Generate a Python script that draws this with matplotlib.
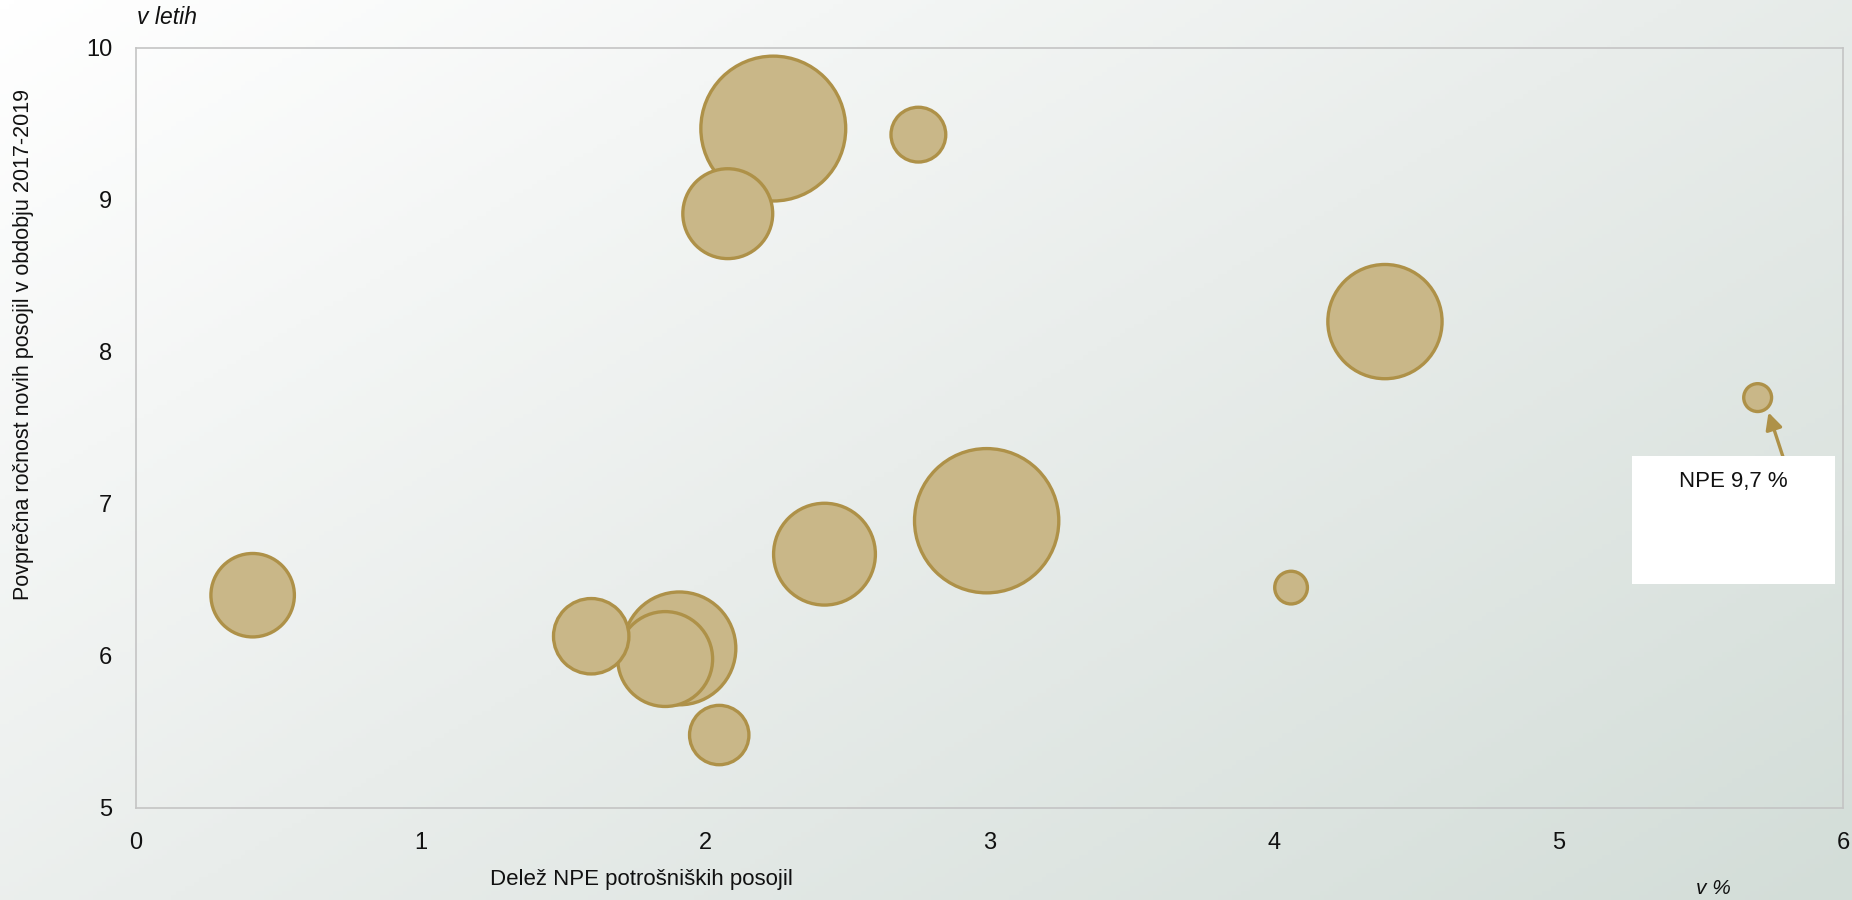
import numpy as np
import matplotlib
matplotlib.use('Agg')
import matplotlib.pyplot as plt
from matplotlib.colors import LinearSegmentedColormap

plt.rcParams['font.family'] = ['Liberation Sans', 'DejaVu Sans']

# delez NPE potrosniskih posojil (%), povprecna rocnost (leta), relativni obseg posojil
npe_delez = [0.41, 1.60, 1.91, 1.86, 2.05, 2.08, 2.24, 2.75, 2.42, 2.99, 4.06, 4.39, 5.70]
rocnost = [6.40, 6.13, 6.05, 5.98, 5.48, 8.91, 9.47, 9.43, 6.67, 6.89, 6.45, 8.20, 7.70]
obseg = [33.2, 27.1, 60.7, 42.9, 16.8, 38.5, 100.0, 14.3, 49.4, 99.2, 5.1, 62.2, 3.7]

x_ticks = [0, 1, 2, 3, 4, 5, 6]
y_ticks = [5, 6, 7, 8, 9, 10]
opomba = 'NPE 9,7 %'

fill_col = '#c9b788'
edge_col = '#ae9148'

fig = plt.figure(figsize=(18.52, 9), dpi=100)

# diagonal gradient background
bg = fig.add_axes([0, 0, 1, 1], zorder=-5)
gx, gy = np.meshgrid(np.linspace(0, 1, 400), np.linspace(0, 1, 200))
grad = (gx * 0.55 + gy * 0.45)
cmap_bg = LinearSegmentedColormap.from_list('bg', ['#ffffff', '#e9edeb', '#d3ddd8'])
bg.imshow(grad, cmap=cmap_bg, aspect='auto', extent=[0, 1, 0, 1], origin='upper')
bg.axis('off')

ax = fig.add_axes([136 / 1852, 1 - 808 / 900, 1707 / 1852, 760 / 900])
ax.patch.set_alpha(0)

# smaller bubbles on top
order = np.argsort(obseg)[::-1]
xs = np.array(npe_delez)[order]
ys = np.array(rocnost)[order]
ss = np.array(obseg)[order] / 100 * 10878
ax.scatter(xs, ys, s=ss, c=fill_col, edgecolors=edge_col, linewidths=2.4, zorder=3)

ax.set_xlim(0, 6)
ax.set_ylim(5, 10)
ax.set_xticks(x_ticks)
ax.set_yticks(y_ticks)
ax.tick_params(length=0, labelsize=17, colors='#111111')
ax.tick_params(axis='x', pad=17)
ax.tick_params(axis='y', pad=17)
for sp in ax.spines.values():
    sp.set_color('#c4c4c4')
    sp.set_linewidth(1.2)

fig.text(641 / 1852, 1 - 880 / 900, 'Delež NPE potrošniških posojil', ha='center', va='center',
         fontsize=16, color='#111111')
fig.text(24 / 1852, 1 - 345 / 900, 'Povprečna ročnost novih posojil v obdobju 2017-2019',
         rotation=90, ha='center', va='center', fontsize=15.5, color='#111111')
fig.text(137 / 1852, 1 - 18 / 900, 'v letih', ha='left', va='center', fontsize=16.5,
         style='italic', color='#111111')
fig.text(1713 / 1852, 1 - 888 / 900, 'v %', ha='center', va='center', fontsize=15,
         style='italic', color='#111111')

# annotation box for the outlier
box = plt.Rectangle((1632 / 1852, 1 - 584 / 900), 203 / 1852, 128 / 900,
                    transform=fig.transFigure, facecolor='white', edgecolor='none', zorder=4)
fig.patches.append(box)
fig.text(1733 / 1852, 1 - 481 / 900, opomba, ha='center', va='center', fontsize=16,
         color='#111111', zorder=5)
ax.annotate('', xy=(npe_delez[-1] + 0.035, rocnost[-1] - 0.08),
            xytext=(1785 / 1852, 1 - 463 / 900), textcoords='figure fraction',
            arrowprops=dict(arrowstyle='-|>,head_length=1.0,head_width=0.5',
                            color=edge_col, lw=2.4), zorder=6)

fig.savefig('out.png', dpi=100)
